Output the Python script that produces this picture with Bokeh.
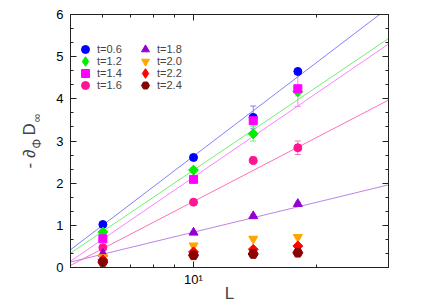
import math
from bokeh.plotting import figure
from bokeh.models import (LogAxis, LinearAxis, FixedTicker, Range1d, Legend, Title,
                          LegendItem, Whisker, ColumnDataSource, CustomJSTickFormatter, TeeHead)
from bokeh.embed import file_html
from bokeh.resources import INLINE

# ---- data ----
L = [6, 10, 14, 18]
labels = ["t=0.6", "t=1.2", "t=1.4", "t=1.6", "t=1.8", "t=2.0", "t=2.2", "t=2.4"]
d06 = [1.02, 2.61, 3.56, 4.65]
d12 = [0.84, 2.31, 3.17, 4.17]
d14 = [0.68, 2.09, 3.48, 4.24]
d16 = [0.47, 1.55, 2.54, 2.84]
d18 = [0.33, 0.83, 1.22, 1.51]
d20 = [0.24, 0.52, 0.68, 0.72]
d22 = [0.18, 0.37, 0.43, 0.51]
d24 = [0.13, 0.29, 0.32, 0.35]
e06 = [0.03, 0.05, 0.27, 0.05]
e12 = [0.03, 0.05, 0.17, 0.10]
e14 = [0.03, 0.05, 0.08, 0.42]
e16 = [0.02, 0.04, 0.08, 0.16]
e18 = [0.02, 0.03, 0.04, 0.04]
e20 = [0.02, 0.02, 0.03, 0.03]
e22 = [0.02, 0.02, 0.03, 0.03]
e24 = [0.02, 0.02, 0.02, 0.02]
fit_L = [5, 30]
fit06 = [0.42, 6.16]
fit12 = [0.34, 5.43]
fit14 = [0.15, 5.30]
fit16 = [0.05, 3.97]
fit18 = [0.13, 1.96]
x_major = [10]
x_minor = [5, 6, 7, 8, 9, 20, 30]
y_ticks = [0, 1, 2, 3, 4, 5, 6]

D = math.pi / 4
# (values, errors, fit, marker, size, angle, colour, light colour, diamond?)
series = [
    (d06, e06, fit06, "circle", 8, 0, "#0000ff", "#7f7fff", False),
    (d12, e12, fit12, "square", 7, D, "#00ee00", "#70f070", True),
    (d14, e14, fit14, "square", 8, 0, "#ff00ff", "#ff80ff", False),
    (d16, e16, fit16, "circle", 8, 0, "#ff1493", "#ff70b8", False),
    (d18, e18, fit18, "triangle", 9, 0, "#9400d3", "#c080e8", False),
    (d20, e20, None, "inverted_triangle", 9, 0, "#ffa500", "#ffc860", False),
    (d22, e22, None, "square", 7, D, "#ff0000", "#ff8080", True),
    (d24, e24, None, "hex", 10, 0, "#8b0000", "#c06060", False),
]

FONT = "Liberation Sans"
NB = "\u00a0"

p = figure(width=436, height=305, x_axis_type="log", output_backend="svg",
           toolbar_location=None, x_range=Range1d(5, 30), y_range=Range1d(0, 6),
           min_border_left=70, min_border_right=48, min_border_top=14, min_border_bottom=38)
p.grid.visible = False
p.outline_line_color = "#222222"
p.outline_line_width = 1
p.background_fill_color = "white"
p.border_fill_color = "white"

def style_axis(ax, show_labels=True):
    ax.axis_line_color = "#222222"
    ax.axis_line_width = 1
    ax.major_tick_in = 6
    ax.major_tick_out = 0
    ax.minor_tick_in = 3
    ax.minor_tick_out = 0
    ax.major_tick_line_color = "#222222"
    ax.minor_tick_line_color = "#222222"
    ax.major_label_text_font = FONT
    ax.major_label_text_font_size = "13px"
    ax.major_label_text_color = "black"
    if not show_labels:
        ax.major_label_text_font_size = "0px"
        ax.major_label_standoff = 0
        ax.formatter = CustomJSTickFormatter(code="return ''")

minor_y = [i / 3 for i in range(0, 19)]
xa = p.xaxis[0]
xa.ticker = FixedTicker(ticks=x_major, minor_ticks=x_minor)
xa.major_label_overrides = {10: "10\u00b9"}
style_axis(xa)
xa.major_label_standoff = 4
xa.axis_label = "L"
xa.axis_label_text_font = FONT
xa.axis_label_text_font_size = "17px"
xa.axis_label_text_font_style = "normal"
xa.axis_label_standoff = -6

ya = p.yaxis[0]
ya.ticker = FixedTicker(ticks=y_ticks, minor_ticks=minor_y)
style_axis(ya)
ya.major_label_standoff = 7
# subscripts of the y title sit just outside the tick labels
ya.axis_label = NB * 6 + "\u03a6" + NB * 5 + "\u221e"
ya.axis_label_text_font = FONT
ya.axis_label_text_font_size = "12px"
ya.axis_label_text_font_style = "normal"
ya.axis_label_standoff = 9

top = LogAxis(ticker=FixedTicker(ticks=x_major, minor_ticks=x_minor))
style_axis(top, False)
p.add_layout(top, "above")
right = LinearAxis(ticker=FixedTicker(ticks=y_ticks, minor_ticks=minor_y))
style_axis(right, False)
p.add_layout(right, "right")

# main symbols of the y title
p.add_layout(Title(text="-" + NB + "\u2202" + NB * 3 + "D", align="left", offset=99,
                   standoff=-23, vertical_align="bottom",
                   text_font=FONT, text_font_size="17px", text_font_style="normal"), "left")

for d, e, fit, mk, sz, an, col, lcol, dia in series:
    if fit is not None:
        p.line(fit_L, fit, line_color=lcol, line_width=1)

legend_renderers = []
for i, (d, e, fit, mk, sz, an, col, lcol, dia) in enumerate(series):
    src = ColumnDataSource(dict(x=L, y=d, lo=[a - b for a, b in zip(d, e)],
                                hi=[a + b for a, b in zip(d, e)]))
    w = Whisker(source=src, base="x", lower="lo", upper="hi", line_color=lcol, line_width=1,
                upper_head=TeeHead(size=6, line_color=lcol, line_width=1),
                lower_head=TeeHead(size=6, line_color=lcol, line_width=1))
    p.add_layout(w)
    if dia:
        lr = p.scatter("x", "y", source=src, marker="diamond", size=9,
                       fill_color=col, line_color=col)
    r = p.scatter("x", "y", source=src, marker=mk, size=sz, angle=an,
                  fill_color=col, line_color=col)
    legend_renderers.append(lr if dia else r)

# one legend per entry so rows can sit close with full-size markers
for i, r in enumerate(legend_renderers):
    col_i, row_i = divmod(i, 4)
    gh = 24 if series[i][8] else 20
    leg = Legend(items=[LegendItem(label=labels[i], renderers=[r])],
                 location=(5 + 60 * col_i - (gh - 20) // 2, 208 - 12 * row_i - (gh - 20) // 2),
                 glyph_width=gh, glyph_height=gh, label_height=gh, spacing=0,
                 padding=0, margin=0, label_standoff=2 - (gh - 20) // 2,
                 label_text_font=FONT, label_text_font_size="11px",
                 border_line_color=None, background_fill_alpha=0)
    p.add_layout(leg)

open("out.html", "w").write(file_html(p, INLINE))
